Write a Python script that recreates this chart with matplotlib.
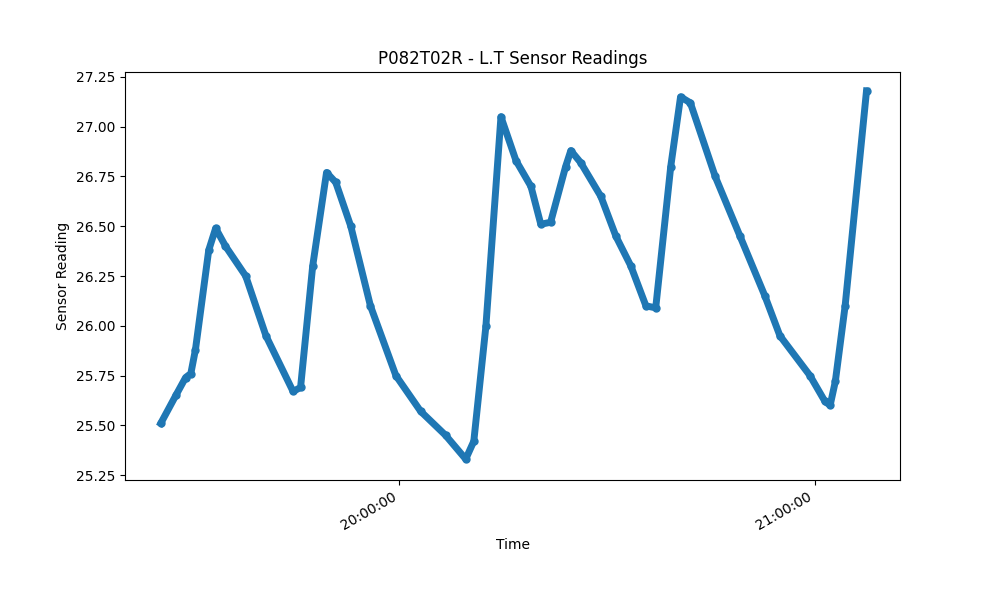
import matplotlib
matplotlib.use("Agg")
import matplotlib.pyplot as plt
import matplotlib.dates as mdates
import pandas as pd

# readings: (time, value)
times = ["19:25:40", "19:27:50", "19:29:15", "19:30:00", "19:30:40", "19:32:35",
         "19:33:35", "19:35:00", "19:37:55", "19:40:50", "19:44:45", "19:45:50",
         "19:47:35", "19:49:35", "19:50:55", "19:53:05", "19:55:55", "19:59:35",
         "20:03:10", "20:06:45", "20:09:40", "20:10:50", "20:12:35", "20:14:45",
         "20:16:55", "20:19:05", "20:20:30", "20:21:55", "20:24:05", "20:24:50",
         "20:26:15", "20:29:10", "20:31:20", "20:33:30", "20:35:40", "20:37:05",
         "20:39:15", "20:40:40", "20:42:05", "20:45:40", "20:49:15", "20:52:50",
         "20:55:00", "20:59:20", "21:01:30", "21:02:15", "21:03:00", "21:04:25",
         "21:07:30"]
values = [25.51, 25.65, 25.74, 25.76, 25.88, 26.38,
          26.49, 26.40, 26.25, 25.95, 25.67, 25.69,
          26.30, 26.77, 26.72, 26.50, 26.10, 25.75,
          25.57, 25.45, 25.33, 25.42, 26.00, 27.05,
          26.83, 26.70, 26.51, 26.52, 26.80, 26.88,
          26.82, 26.65, 26.45, 26.30, 26.10, 26.09,
          26.80, 27.15, 27.12, 26.75, 26.45, 26.15,
          25.95, 25.75, 25.62, 25.60, 25.72, 26.10,
          27.18]

t = pd.to_datetime(["2024-01-01 " + s for s in times])

fig, ax = plt.subplots(figsize=(10, 6), dpi=100)
ax.plot(t, values, "-o", color="#1f77b4", linewidth=5, markersize=5)
ax.set_title("P082T02R - L.T Sensor Readings")
ax.set_xlabel("Time")
ax.set_ylabel("Sensor Reading")
ax.xaxis.set_major_locator(mdates.HourLocator())
ax.xaxis.set_major_formatter(mdates.DateFormatter("%H:%M:%S"))
ax.set_xlim(pd.Timestamp("2024-01-01 19:20:30"), pd.Timestamp("2024-01-01 21:12:20"))
ax.set_ylim(25.225, 27.275)
fig.autofmt_xdate()
fig.savefig("out.png")
